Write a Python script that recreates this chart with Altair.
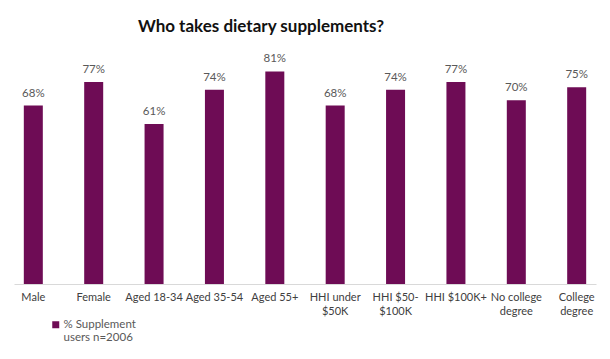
import altair as alt
import pandas as pd

categories = ["Male", "Female", "Aged 18-34", "Aged 35-54", "Aged 55+",
              "HHI under\n$50K", "HHI $50-\n$100K", "HHI $100K+",
              "No college\ndegree", "College\ndegree"]
values = [68, 77, 61, 74, 81, 68, 74, 77, 70, 75]
series_name = "% Supplement\nusers n=2006"

df = pd.DataFrame({"category": categories, "value": values, "series": series_name})
df["label"] = df["value"].astype(str) + "%"

x = alt.X("category:N", sort=categories, title=None,
          scale=alt.Scale(paddingInner=0.68, paddingOuter=0.16),
          axis=alt.Axis(labelAngle=0, ticks=False, domainColor="#d9d9d9", domainWidth=1,
                        labelExpr="split(datum.label, '\\n')", labelFontSize=11,
                        labelColor="#404040", labelFont="Lato", labelPadding=7,
                        labelLineHeight=14, labelLimit=120))
y = alt.Y("value:Q", title=None, scale=alt.Scale(domain=[0, 85], nice=False), axis=None)

bars = alt.Chart(df).mark_bar(size=19).encode(
    x=x, y=y,
    color=alt.Color("series:N", scale=alt.Scale(range=["#6E0C55"]),
                    legend=alt.Legend(title=None, orient="none", legendX=36, legendY=258,
                                      symbolType="square", symbolSize=49, padding=0,
                                      labelExpr="split(datum.label, '\\n')",
                                      labelFontSize=11.5, labelColor="#595959", labelFont="Lato",
                                      labelOffset=2, labelLimit=200)),
)
text = alt.Chart(df).mark_text(baseline="bottom", dy=-7, fontSize=11.5, color="#595959",
                               font="Lato").encode(x=x, y=y, text="label:N")

chart = (bars + text).properties(
    width=582, height=223,
    title=alt.TitleParams("Who takes dietary supplements?", fontSize=17, font="Lato",
                          fontWeight="bold", color="#111111", anchor="middle", dx=-44, offset=17),
    autosize=alt.AutoSizeParams(type="none"),
    padding={"left": 6, "top": 53, "right": 6, "bottom": 72},
).configure_view(stroke=None)

chart.save("out.html", embed_options={"renderer": "svg", "actions": False})
